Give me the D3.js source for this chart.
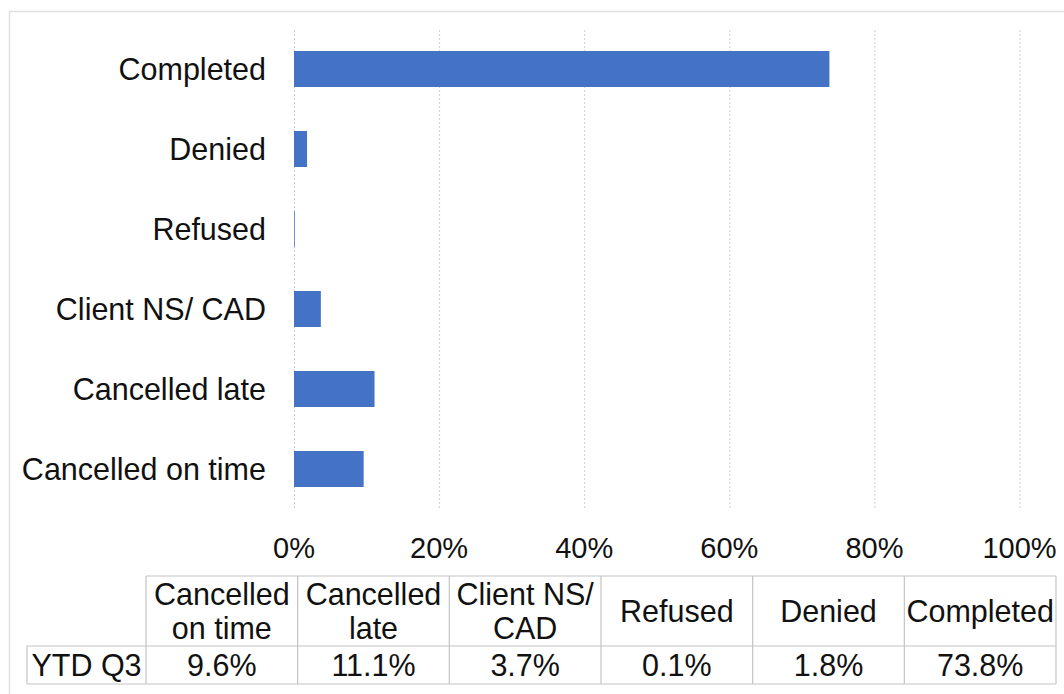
<!DOCTYPE html>
<html><head><meta charset="utf-8">
<script src="https://cdn.jsdelivr.net/npm/d3@7"></script>
<style>
html,body{margin:0;padding:0;background:#fff;}
svg{display:block;font-family:"Liberation Sans",Arial,Helvetica,sans-serif;}
</style></head>
<body>
<svg id="c" width="1064" height="694"></svg>
<script>
// Data
const chartCategories = ["Completed","Denied","Refused","Client NS/ CAD","Cancelled late","Cancelled on time"];
const chartValues = [73.8, 1.8, 0.1, 3.7, 11.1, 9.6];
const tableHeaders = [["Cancelled","on time"],["Cancelled","late"],["Client NS/","CAD"],["Refused"],["Denied"],["Completed"]];
const tableSeriesName = "YTD Q3";
const tableValues = [9.6, 11.1, 3.7, 0.1, 1.8, 73.8];
const xTicks = [0,20,40,60,80,100];

const svg = d3.select("#c");
const FS = 30.5;
const FS_TICK = 29;
const gridColor = "#cfcfcf";
const borderColor = "#c4c4c4";
const textColor = "#111";

// outer chart border
svg.append("rect").attr("x",9.5).attr("y",11.5).attr("width",1070).attr("height",700)
  .attr("fill","none").attr("stroke","#e0e0e0").attr("stroke-width",1.5);

const x = d3.scaleLinear().domain([0,100]).range([294,1019.5]);
const y = d3.scaleBand().domain(chartCategories).range([29,509]).paddingInner(0.55).paddingOuter(0.275);

// gridlines
svg.append("g").selectAll("line").data(xTicks).join("line")
  .attr("x1",d=>x(d)+0.5).attr("x2",d=>x(d)+0.5).attr("y1",30).attr("y2",510)
  .attr("stroke",gridColor).attr("stroke-width",1).attr("stroke-dasharray","2,2");

// bars
svg.append("g").selectAll("rect").data(chartCategories).join("rect")
  .attr("x",x(0)).attr("y",d=>y(d))
  .attr("width",(d,i)=>x(chartValues[i])-x(0)).attr("height",y.bandwidth())
  .attr("fill","#4472C4");

// category labels
svg.append("g").selectAll("text").data(chartCategories).join("text")
  .attr("x",266).attr("y",d=>y(d)+y.bandwidth()/2).attr("dy","0.35em")
  .attr("text-anchor","end").attr("font-size",FS).attr("fill",textColor).text(d=>d);

// x tick labels
svg.append("g").selectAll("text").data(xTicks).join("text")
  .attr("x",d=>x(d)).attr("y",548).attr("dy","0.35em")
  .attr("text-anchor","middle").attr("font-size",FS_TICK).attr("fill",textColor).text(d=>d+"%");

// data table
const tx = d3.scaleBand().domain(d3.range(tableHeaders.length)).range([146,1056]);
const rowTop = 576, rowMid = 646, rowBot = 684, leftX = 27;
const tg = svg.append("g");
const line = (x1,y1,x2,y2)=>tg.append("line").attr("x1",x1).attr("y1",y1).attr("x2",x2).attr("y2",y2)
  .attr("stroke",borderColor).attr("stroke-width",1.2);
line(146,rowTop,1056,rowTop);
line(leftX,rowMid,1056,rowMid);
line(leftX,rowBot,1056,rowBot);
line(leftX,rowMid,leftX,rowBot);
tg.selectAll("line.v").data(d3.range(tableHeaders.length+1)).join("line").attr("class","v")
  .attr("x1",i=>i<tableHeaders.length?tx(i):1056).attr("x2",i=>i<tableHeaders.length?tx(i):1056)
  .attr("y1",rowTop).attr("y2",rowBot).attr("stroke",borderColor).attr("stroke-width",1.2);

// headers
tableHeaders.forEach((h,i)=>{
  const cx = tx(i)+tx.bandwidth()/2;
  const lh = 34;
  const cy = (rowTop+rowMid)/2;
  h.forEach((t,j)=>{
    tg.append("text").attr("x",cx).attr("y",cy+(j-(h.length-1)/2)*lh).attr("dy","0.35em")
      .attr("text-anchor","middle").attr("font-size",FS).attr("fill",textColor).text(t);
  });
});
// values
tg.selectAll("text.v").data(tableValues).join("text").attr("class","v")
  .attr("x",(d,i)=>tx(i)+tx.bandwidth()/2).attr("y",(rowMid+rowBot)/2).attr("dy","0.35em")
  .attr("text-anchor","middle").attr("font-size",FS).attr("fill",textColor).text(d=>d.toFixed(1)+"%");
tg.append("text").attr("x",(leftX+146)/2).attr("y",(rowMid+rowBot)/2).attr("dy","0.35em")
  .attr("text-anchor","middle").attr("font-size",FS).attr("fill",textColor).text(tableSeriesName);
</script>
</body></html>
